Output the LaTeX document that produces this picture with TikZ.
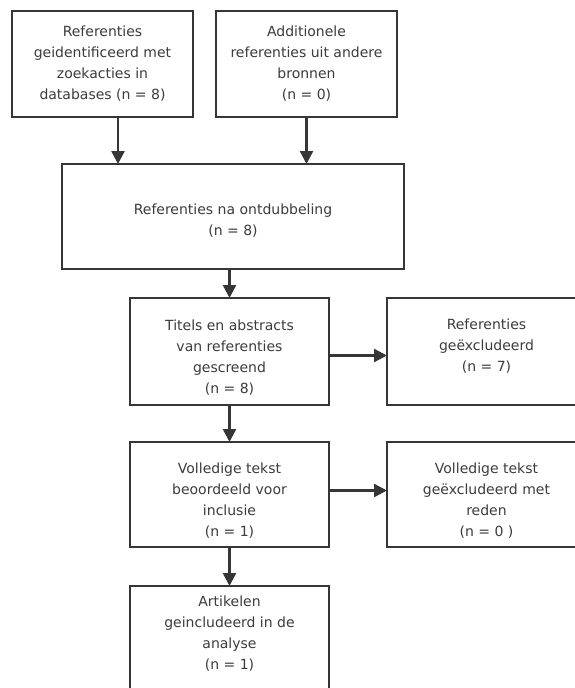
\documentclass[tikz,border=0pt]{standalone}
\usepackage{fontspec}
\setmainfont{DejaVu Sans}
\usetikzlibrary{positioning,calc,arrows.meta}
\definecolor{boxline}{HTML}{363636}
\definecolor{boxtext}{HTML}{3C3C3C}
\newcommand{\padtop}[1]{\rule{0pt}{#1}}
\newcommand{\padbot}[1]{\rule[-#1]{0pt}{#1}}

\begin{document}
\begin{tikzpicture}[
      x=1pt, y=1pt,
      flowbox/.style={draw=boxline, line width=2.4pt, outer sep=0pt, fill=white, align=center, text=boxtext,
        font=\fontsize{14}{21}\selectfont, inner sep=2pt},
      smallbox/.style={flowbox, minimum width=181pt, minimum height=106pt},
      widebox/.style={flowbox, minimum width=342pt, minimum height=105pt},
      >={Triangle[length=13pt, width=13pt]}
    ]
    \useasboundingbox (0,-688) rectangle (575,0);

    % Identification
    \node[smallbox] (ident) at (102.5,-64) {Referenties\\geidentificeerd met\\zoekacties in\\databases (n = 8)};
    \node[smallbox, right=23pt of ident] (extra) {Additionele\\referenties uit andere\\bronnen\\(n = 0)};

    % Screening
    \node[widebox, below right=47pt and 50pt of ident.south west] (dedup) {\padtop{19pt}Referenties na ontdubbeling\\(n = 8)};
    \node[smallbox, minimum width=199pt, minimum height=107pt, below right=29pt and 68pt of dedup.south west] (screen) {\padtop{22pt}Titels en abstracts\\van referenties\\gescreend\\(n = 8)};
    \node[smallbox, minimum width=199pt, minimum height=107pt, right=58pt of screen] (excl) {Referenties\\geëxcludeerd\\(n = 7)\padbot{13pt}};

    % Eligibility
    \node[smallbox, minimum width=199pt, minimum height=105pt, below=37pt of screen] (full) {\padtop{22pt}Volledige tekst\\beoordeeld voor\\inclusie\\(n = 1)};
    \node[smallbox, minimum width=199pt, minimum height=105pt, right=58pt of full] (fullexcl) {\padtop{22pt}Volledige tekst\\geëxcludeerd met\\reden\\(n = 0 )};

    % Included
    \node[smallbox, minimum width=199pt, minimum height=107pt, below=39pt of full] (incl) {Artikelen\\geincludeerd in de\\analyse\\(n = 1)\padbot{14pt}};

    % Arrows
    \draw[->, line width=2.4pt, boxline] ([xshift=15.5pt]ident.south) -- ([xshift=15.5pt]ident.south |- dedup.north);
    \draw[->, line width=2.4pt, boxline] (extra.south) -- (extra.south |- dedup.north);
    \draw[->, line width=2.4pt, boxline] (dedup.south -| screen.north) -- (screen.north);
    \draw[->, line width=2.4pt, boxline] ([yshift=-4pt]screen.east) -- ([yshift=-4pt]excl.west);
    \draw[->, line width=2.4pt, boxline] (screen.south) -- (full.north);
    \draw[->, line width=2.4pt, boxline] ([yshift=4pt]full.east) -- ([yshift=4pt]fullexcl.west);
    \draw[->, line width=2.4pt, boxline] (full.south) -- (incl.north);

  \end{tikzpicture}
\end{document}
